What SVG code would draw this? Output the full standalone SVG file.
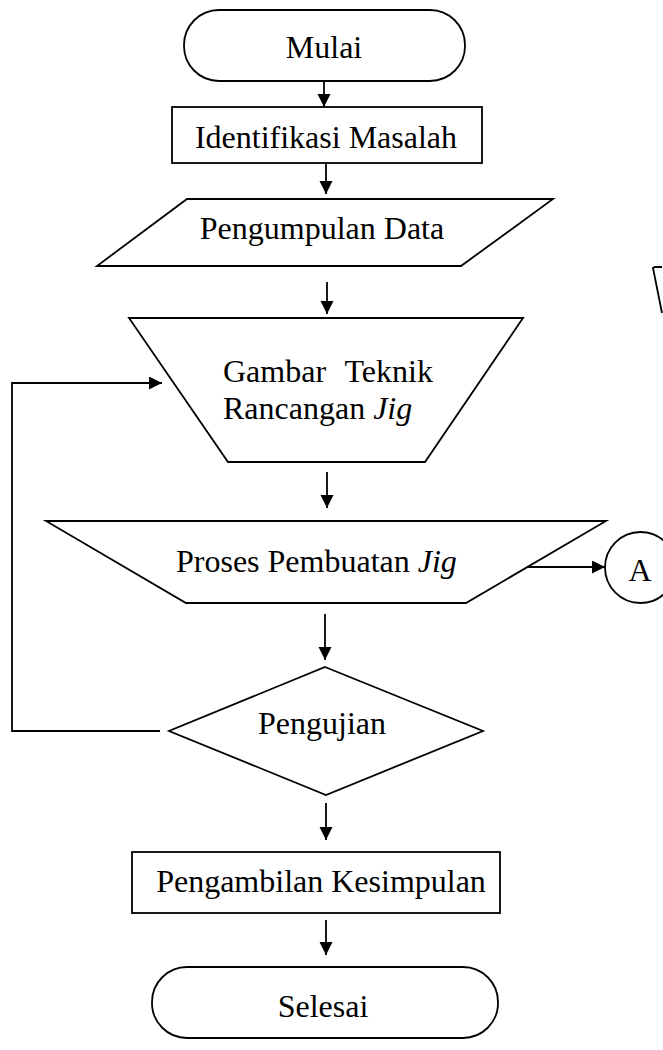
<svg xmlns="http://www.w3.org/2000/svg" width="663" height="1050" viewBox="0 0 663 1050">
<defs>
<marker id="ah" markerUnits="userSpaceOnUse" markerWidth="15" markerHeight="14" refX="13" refY="6.5" orient="auto">
<path d="M0,0 L13,6.5 L0,13 z" fill="#000"/>
</marker>
<style>
.s{fill:#fff;stroke:#000;stroke-width:1.8;}
.c{fill:none;stroke:#000;stroke-width:1.8;marker-end:url(#ah);}
.l{fill:none;stroke:#000;stroke-width:1.8;}
.t{font-family:"Liberation Serif","Times New Roman",serif;font-size:32px;fill:#000;}
</style>
</defs>
<rect width="663" height="1050" fill="#fff"/>
<g id="connectors">
<line class="c" x1="324" y1="81" x2="324" y2="107"/>
<line class="c" x1="326" y1="156" x2="326" y2="194"/>
<line class="c" x1="327" y1="282" x2="327" y2="314"/>
<line class="c" x1="327" y1="472" x2="327" y2="508"/>
<line class="c" x1="325" y1="614" x2="325" y2="660"/>
<line class="c" x1="326" y1="803" x2="326" y2="840"/>
<line class="c" x1="326" y1="920" x2="326" y2="955"/>
<polyline class="c" points="160,731 12,731 12,383 162,383"/>
<line class="c" x1="528" y1="567" x2="605" y2="567"/>
</g>
<g id="mulai">
<rect class="s" x="184" y="10" width="281" height="71" rx="35" ry="35"/>
<text class="t" x="324" y="58" text-anchor="middle">Mulai</text>
</g>
<g id="identifikasi">
<rect class="s" x="172" y="107" width="310" height="56"/>
<text class="t" x="326" y="148" text-anchor="middle">Identifikasi Masalah</text>
</g>
<g id="pengumpulan">
<polygon class="s" points="187,199 553,199 461,266 97,266"/>
<text class="t" x="322" y="239" text-anchor="middle">Pengumpulan Data</text>
</g>
<g id="stray">
<polyline class="l" points="662,267 655,267 653,268 662,313"/>
</g>
<g id="gambar">
<polygon class="s" points="129,318 523,318 425,462 228,462"/>
<text class="t" x="223" y="382" word-spacing="11">Gambar Teknik</text>
<text class="t" x="223" y="419">Rancangan <tspan font-style="italic">Jig</tspan></text>
</g>
<g id="proses">
<polygon class="s" points="46,521 606,521 466,603 186,603"/>
<text class="t" x="176" y="572">Proses Pembuatan <tspan font-style="italic">Jig</tspan></text>
</g>
<g id="connA">
<circle class="s" cx="640.5" cy="567.5" r="35.5"/>
<text class="t" x="640" y="581" text-anchor="middle">A</text>
</g>
<g id="pengujian">
<polygon class="s" points="325,667 483,731 326,795 169,731"/>
<text class="t" x="322" y="734" text-anchor="middle">Pengujian</text>
</g>
<g id="pengambilan">
<rect class="s" x="132" y="852" width="368" height="61"/>
<text class="t" x="321" y="892" text-anchor="middle">Pengambilan Kesimpulan</text>
</g>
<g id="selesai">
<rect class="s" x="152" y="967" width="346" height="71" rx="35" ry="35"/>
<text class="t" x="323" y="1017" text-anchor="middle">Selesai</text>
</g>
</svg>
